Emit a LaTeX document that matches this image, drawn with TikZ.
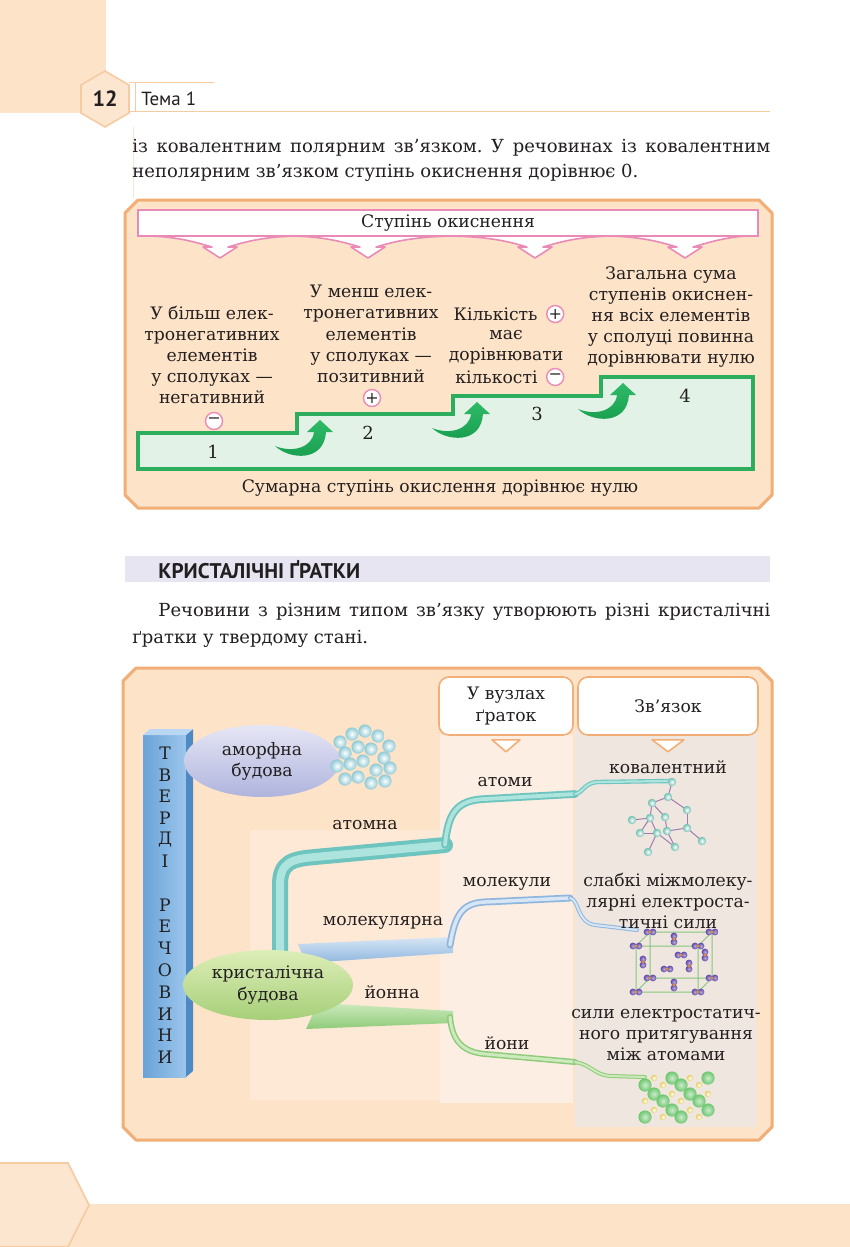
\documentclass[tikz,border=0pt]{standalone}
\usepackage{fontspec}
\setmainfont{DejaVu Serif}
\newfontfamily\headfont{PT Sans}
\usetikzlibrary{shapes.geometric,positioning}
\frenchspacing

\definecolor{ink}{HTML}{231F20}
\definecolor{peach}{HTML}{FDE3C8}
\definecolor{peachline}{HTML}{F2AE76}
\definecolor{hexfill}{HTML}{FDE6CF}
\definecolor{hexline}{HTML}{F6CBA2}
\definecolor{pinkline}{HTML}{E98BB6}
\definecolor{stairgreen}{HTML}{2DAE5E}
\definecolor{stairfill}{HTML}{E3F2E6}
\definecolor{arrowgreen}{HTML}{159C4C}
\definecolor{arrowlight}{HTML}{2FBA68}
\definecolor{lavband}{HTML}{E7E5F1}
\definecolor{panel}{HTML}{FDE9D6}
\definecolor{colA}{HTML}{FCEEE2}
\definecolor{colB}{HTML}{EFE7DF}
\definecolor{barblue}{HTML}{9CC6EC}
\definecolor{bardark}{HTML}{6AA3D8}
\definecolor{barside}{HTML}{4F89C4}
\definecolor{bartop}{HTML}{B9D7F2}
\definecolor{atomedge}{HTML}{6EC4BE}
\definecolor{atomcore}{HTML}{AEE4DE}
\definecolor{moledge}{HTML}{8FB6DE}
\definecolor{molcore}{HTML}{D6E6F5}
\definecolor{ionedge}{HTML}{8FCB79}
\definecolor{ioncore}{HTML}{CCEABD}
\definecolor{amorphtop}{HTML}{E6E6F5}
\definecolor{amorphbot}{HTML}{AFB4DD}
\definecolor{crysttop}{HTML}{DDEEB8}
\definecolor{crystbot}{HTML}{A6CF78}
\definecolor{ballcyan}{HTML}{8FCAD6}
\definecolor{atomball}{HTML}{6DBFB0}
\definecolor{bondpurple}{HTML}{A27BB0}
\definecolor{cubegreen}{HTML}{86C77E}
\definecolor{molpurple}{HTML}{5E47A8}
\definecolor{molorange}{HTML}{E08A3A}
\definecolor{iongreen}{HTML}{6DC66E}
\definecolor{ionyellow}{HTML}{E6CF5E}

\def\topframe{(125,213) -- (138,200) -- (759,200) -- (772,213) -- (772,495) -- (759,508) -- (138,508) -- (125,495) -- cycle}
\def\lowframe{(123,681) -- (136,668) -- (759,668) -- (772,681) -- (772,1127) -- (759,1140) -- (136,1140) -- (123,1127) -- cycle}
\def\stairs{(138,433) -- (297,433) -- (297,414) -- (453,414) -- (453,396) -- (601,396) -- (601,377) -- (753,377) -- (753,469) -- (138,469) -- cycle}
\def\bentarrow{(-45,26) .. controls (-30,40) and (4,42) .. (6,12) -- (13,12) -- (0,0) -- (-13,12) -- (-6,12) .. controls (-8,28) and (-28,33) .. cycle}
\newcommand\tubeline[4]{%
  \draw[#1, line width=#3, line cap=round, line join=round] #4;
  \draw[#2, line width=#3*0.5, line cap=round, line join=round] #4;}

\begin{document}
\begin{tikzpicture}[x=0.5pt, y=-0.5pt,
  lbl/.style={font=\fontsize{8.6}{10.6}\selectfont, text=ink, align=center, inner sep=0pt},
  body/.style={font=\fontsize{9}{13}\selectfont, text=ink, anchor=west, inner sep=0pt},
  sign/.style={circle, draw=pinkline, fill=white, line width=0.7pt, minimum size=8.5pt, inner sep=0pt, font=\fontsize{8}{8}\selectfont, text=ink},
  letter/.style={font=\fontsize{8.6}{8.6}\selectfont, text=ink, inner sep=0pt},
  callout/.style={draw=peachline, fill=white, line width=0.8pt, rounded corners=5pt, lbl},
  frame/.style={draw=peachline, fill=peach, line width=1.5pt, line join=round}]

\useasboundingbox (0,0) rectangle (850,1247);
\fill[white] (0,0) rectangle (850,1247);

% page head
\fill[peach] (0,0) rectangle (106,113);
\draw[hexline, line width=0.5pt] (129,83) -- (214,83) (129,112) -- (770,112) (135,83) -- (135,112);
\draw[hexline!50, line width=0.4pt] (133,127) -- (133,198);
\draw[hexline, fill=hexfill, line width=0.8pt] (105,71) -- (129,85) -- (129,113) -- (105,127) -- (81,113) -- (81,85) -- cycle;
\node[font=\headfont\bfseries\fontsize{11}{11}\selectfont, text=ink] (pagenum) at (105,99) {12};
\node[font=\headfont\fontsize{9.5}{10}\selectfont, text=ink, anchor=west, inner sep=0pt] (topic) at (141,99) {Тема 1};

\node[body] (line1) at (132,148) {\makebox[319pt][s]{із ковалентним полярним зв’язком. У речовинах із ковалентним}};
\node[body] (line2) at (132,173) {неполярним зв’язком ступінь окиснення дорівнює 0.};

% oxidation state box
\draw[frame] \topframe;
\foreach \c/\l/\r in {220/150/294, 368/294/452, 535/452/610, 685/610/748}
  \draw[pinkline, fill=white, line width=0.8pt, line join=round] (\l,236) .. controls (\c-40,237) and (\c-22,243) .. (\c-8,247) -- (\c-17,247) -- (\c,258) -- (\c+17,247) -- (\c+8,247) .. controls (\c+22,243) and (\c+40,237) .. (\r,236);
\draw[pinkline, fill=white, line width=0.8pt] (138,210) rectangle (758,236);
\node[lbl] (oxtitle) at (448,223) {Ступінь окиснення};

\draw[stairgreen, fill=stairfill, line width=2pt] \stairs;
\foreach \p in {(320,420),(477,402),(623,383)}
  \shade[top color=arrowlight, bottom color=arrowgreen, shift={\p}] \bentarrow;
\foreach \n/\x/\y in {1/213/452, 2/368/433, 3/537/414, 4/685/396}
  \node[lbl, font=\fontsize{9}{9}\selectfont] (s\n) at (\x,\y) {\n};

\node[lbl] (rule1) at (212,355) {У більш елек-\\тронегативних\\елементів\\у сполуках —\\негативний};
\node[sign] (minus1) at (214,421) {−};
\node[lbl] (rule2) at (371,334) {У менш елек-\\тронегативних\\елементів\\у сполуках —\\позитивний};
\node[sign] (plus2) at (372,398) {+};
\node[lbl, anchor=east] (k1) at (538,314) {Кількість};
\node[sign, right=4pt of k1] (plus3) {+};
\node[lbl] (k2) at (506,335) {має};
\node[lbl] (k3) at (506,356) {дорівнювати};
\node[lbl, anchor=east] (k4) at (538,377) {кількості};
\node[sign, right=4pt of k4] (minus3) {−};
\node[lbl] (rule4) at (671,317) {Загальна сума\\ступенів окиснен-\\ня всіх елементів\\у сполуці повинна\\дорівнювати нулю};
\node[lbl] (total) at (440,488) {Сумарна ступінь окислення дорівнює нулю};

% section
\fill[lavband] (125,556) rectangle (770,582);
\node[font=\headfont\bfseries\fontsize{10.6}{11}\selectfont, anchor=west, text=ink, inner sep=0pt] (section) at (158,570) {КРИСТАЛІЧНІ ҐРАТКИ};
\node[body] (line3) at (158,612) {\makebox[306pt][s]{Речовини з різним типом зв’язку утворюють різні кристалічні}};
\node[body] (line4) at (132,639) {ґратки у твердому стані.};

% lattice box
\draw[frame] \lowframe;
\fill[panel] (250,830) rectangle (440,1100);
\fill[colA] (440,735) rectangle (573,1103);
\fill[colB] (575,728) rectangle (757,1127);

\node[callout, minimum width=67pt, minimum height=29pt] (sites) at (506,706) {У вузлах\\ґраток};
\draw[peachline, fill=white, line width=0.8pt, line join=round] ([xshift=-7pt,yshift=-2pt]sites.south) -- ([xshift=7pt,yshift=-2pt]sites.south) -- ([yshift=-8pt]sites.south) -- cycle;
\node[callout, minimum width=90pt, minimum height=29pt] (bondhead) at (668,706) {Зв’язок};
\draw[peachline, fill=white, line width=0.8pt, line join=round] ([xshift=-8pt,yshift=-2pt]bondhead.south) -- ([xshift=8pt,yshift=-2pt]bondhead.south) -- ([yshift=-8pt]bondhead.south) -- cycle;

\coordinate (afork) at (445,845);
\coordinate (aend) at (670,781);
\coordinate (mfork) at (450,945);
\coordinate (mend) at (637,930);
\coordinate (ifork) at (450,1017);
\coordinate (iend) at (645,1077);

% tubes
\tubeline{atomedge}{atomcore}{8pt}{(280,958) -- (280,885) .. controls (280,862) and (292,859) .. (315,857) -- (afork)}
\tubeline{atomedge}{atomcore}{3.8pt}{(afork) .. controls (448,815) and (455,800) .. (485,799) -- (575,794)}
\tubeline{atomedge}{atomcore}{2.2pt}{(575,794) .. controls (583,793) and (584,783) .. (597,782) -- (aend)}
\shade[top color=molcore, bottom color=moledge] (298,944) -- (453,937) -- (453,953) -- (306,963) -- cycle;
\tubeline{moledge}{molcore}{3.5pt}{(mfork) .. controls (455,915) and (462,903) .. (485,902) -- (570,898)}
\tubeline{moledge}{molcore}{2pt}{(570,898) .. controls (580,900) and (576,922) .. (595,925) -- (mend)}
\shade[top color=ioncore, bottom color=ionedge] (318,1003) -- (453,1011) -- (453,1023) -- (306,1029) -- cycle;
\tubeline{ionedge}{ioncore}{3pt}{(ifork) .. controls (452,1040) and (462,1052) .. (485,1054) -- (575,1062)}
\tubeline{ionedge}{ioncore}{2pt}{(575,1062) .. controls (590,1064) and (595,1075) .. (610,1076) -- (iend)}

% solids bar
\shade[left color=bardark, right color=barblue] (143,735) rectangle (186,1077);
\fill[barside] (186,735) -- (193,729) -- (193,1071) -- (186,1077) -- cycle;
\fill[bartop] (143,735) -- (150,729) -- (193,729) -- (186,735) -- cycle;
\foreach \ch [count=\i] in {Т,В,Е,Р,Д,І}
  \node[letter] (t\i) at (165,732+21.5*\i) {\ch};
\foreach \ch [count=\i] in {Р,Е,Ч,О,В,И,Н,И}
  \node[letter] (r\i) at (165,883+21.8*\i) {\ch};

\node[ellipse, minimum width=78pt, minimum height=36pt, top color=amorphtop, bottom color=amorphbot, lbl] (amorph) at (262,761) {аморфна\\будова};
\foreach \p in {(340,742),(352,734),(365,731),(378,736),(389,746),(345,753),(358,747),(371,749),(384,758),(337,766),(350,764),(363,761),(376,770),(390,768),(345,779),(358,777),(371,783),(385,781)}
  \shade[inner color=white, outer color=ballcyan] \p circle (3.3pt);
\node[ellipse, minimum width=85pt, minimum height=35pt, top color=crysttop, bottom color=crystbot, lbl] (cryst) at (268,985) {кристалічна\\будова};

% covalent lattice
\foreach \n/\x/\y in {a1/672/782, a2/668/797, a3/652/803, a4/687/810, a5/632/820, a6/650/818, a7/665/817, a8/687/828, a9/667/831, a10/640/833, a11/657/833, a12/702/841, a13/675/847, a14/648/852}
  \coordinate (\n) at (\x,\y);
\foreach \a/\b in {a1/a2, a2/a3, a2/a4, a3/a6, a4/a8, a6/a5, a6/a11, a7/a3, a7/a9, a8/a9, a8/a12, a9/a13, a10/a11, a11/a14, a13/a11, a10/a6}
  \draw[bondpurple, line width=0.5pt] (\a) -- (\b);
\foreach \n in {a1,a2,a3,a4,a5,a6,a7,a8,a9,a10,a11,a12,a13,a14}
  \shade[inner color=white, outer color=atomball] (\n) circle (2.1pt);

% molecular lattice
\draw[cubegreen, line width=0.5pt] (636,946) rectangle (698,992) (650,932) rectangle (712,978)
  (636,946) -- (650,932) (698,946) -- (712,932) (698,992) -- (712,978) (636,992) -- (650,978);
\foreach \x/\y/\dx/\dy in {650/932/3/0, 712/932/3/0, 650/978/3/0, 712/978/3/0, 674/939/0/3, 681/955/3/0, 705/955/0/3, 643/962/0/3, 667/969/3/0, 689/966/0/3, 636/946/3/0, 698/946/3/0, 636/992/3/0, 698/992/3/0, 674/985/0/3}
  {\shade[inner color=molpurple!45!white, outer color=molpurple] (\x-\dx,\y-\dy) circle (1.7pt);
   \shade[inner color=molpurple!45!white, outer color=molpurple] (\x+\dx,\y+\dy) circle (1.7pt);
   \fill[molorange] (\x,\y) circle (0.8pt);}

% ionic lattice
\foreach \k in {1,0}
  \foreach \i in {0,...,3}
    \foreach \j in {0,...,2}
      {\pgfmathtruncatemacro\parity{mod(\i+\j+\k,2)}
       \ifnum\parity=0
         \shade[inner color=iongreen!35!white, outer color=iongreen] (645+18*\i+9*\k,1085+16*\j-7*\k) circle (3.3pt);
       \else
         \shade[inner color=white, outer color=ionyellow] (645+18*\i+9*\k,1085+16*\j-7*\k) circle (1.6pt);
       \fi}

% labels
\node[lbl] (atomic) at (365,825) {атомна};
\node[lbl] (molecular) at (383,923) {молекулярна};
\node[lbl] (ionic) at (392,992) {йонна};
\node[lbl] (atoms) at (505,782) {атоми};
\node[lbl] (molecules) at (507,884) {молекули};
\node[lbl] (ions) at (507,1043) {йони};
\node[lbl] (covalent) at (668,767) {ковалентний};
\node[lbl] (weak) at (668,901) {слабкі міжмолеку-\\лярні електроста-\\тичні сили};
\node[lbl] (attract) at (666,1035) {сили електростатич-\\ного притягування\\між атомами};

% page foot
\fill[peach] (0,1204) rectangle (850,1247);
\draw[hexline, fill=hexfill, line width=0.8pt] (0,1163) -- (68,1163) -- (89,1205) -- (68,1247) -- (0,1247);
\end{tikzpicture}
\end{document}
